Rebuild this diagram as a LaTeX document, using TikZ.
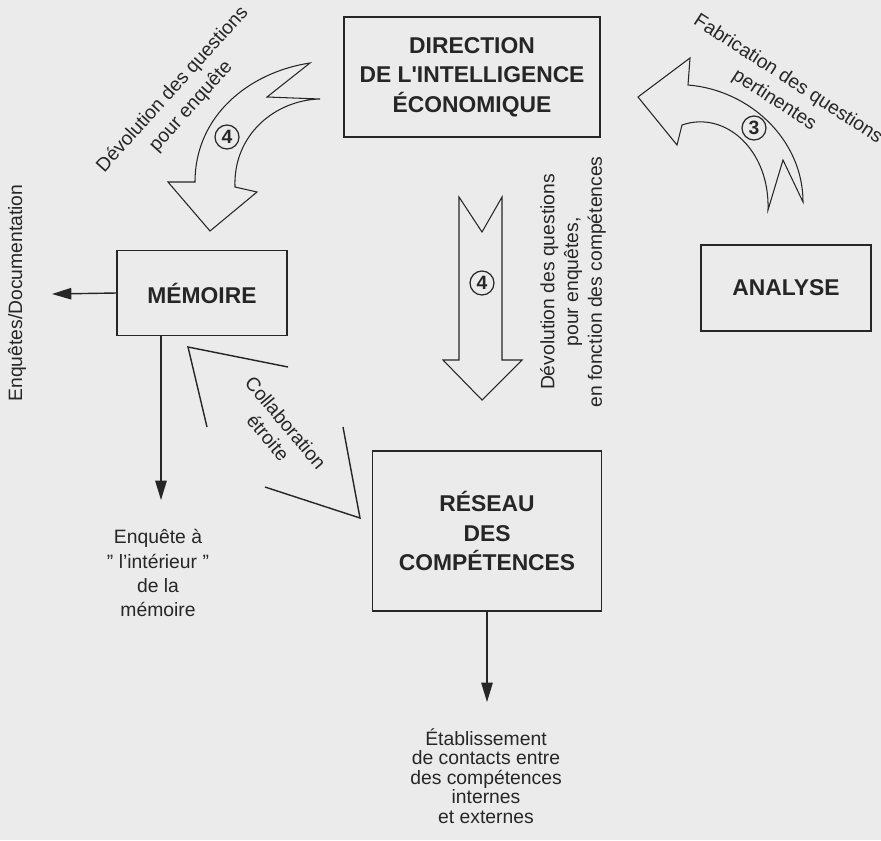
\documentclass[tikz,border=0pt]{standalone}
\usepackage{fontspec}
\setmainfont{Liberation Sans}
\usepackage{tikz}
\usetikzlibrary{arrows.meta}
\definecolor{ink}{HTML}{262626}
\definecolor{paper}{HTML}{EBEBEB}
\tikzset{
  boite/.style={draw=ink, line width=1.1pt, inner sep=0pt, align=center, text=ink,
    font=\fontsize{13}{16.8}\selectfont\bfseries},
  legende/.style={text=ink, align=center, inner sep=0pt, font=\fontsize{11}{13.5}\selectfont},
  fleche/.style={draw=ink, line width=0.8pt, -{Triangle[length=11pt,width=6.5pt]}},
  bloc/.style={draw=ink, line width=0.6pt, line join=miter},
  rond/.style={circle, draw=ink, line width=0.7pt, minimum size=0.48cm, inner sep=0pt, text=ink,
    font=\fontsize{11}{11}\selectfont\bfseries},
  chevron/.style={draw=ink, line width=0.8pt}
}

\begin{document}
\begin{tikzpicture}[x=0.02cm, y=-0.02cm]
    \fill[paper] (0,0) rectangle (881,840);
    \useasboundingbox (0,0) rectangle (881,840);

    \node[boite, minimum width=5.12cm, minimum height=2.4cm] (dir) at (472,77) {DIRECTION\\DE L\textquotesingle INTELLIGENCE\\ÉCONOMIQUE};
    \node[boite, minimum width=3.4cm, minimum height=1.7cm] (mem) at (202,293) {MÉMOIRE};
    \node[boite, minimum width=3.4cm, minimum height=1.72cm] (ana) at (786,288) {ANALYSE};
    \node[boite, minimum width=4.58cm, minimum height=3.2cm] (res) at (487,531) {RÉSEAU\\DES\\COMPÉTENCES};

    \node[legende, rotate=90] (doc) at (17,293) {Enquêtes/Documentation};
    \node[legende, font=\fontsize{11}{13.7}\selectfont] (enq) at (158,573) {Enquête à\\" l'intérieur "\\de la\\mémoire};
    \node[legende, font=\fontsize{11}{11.1}\selectfont] (etab) at (486,776) {Établissement\\de contacts entre\\des compétences\\internes\\et externes};

    \coordinate (doctip) at (52,294);
    \coordinate (enqtip) at (161,500);
    \coordinate (etabtip) at (487,702);
    \draw[fleche] (mem.west) -- (doctip);
    \draw[fleche] (mem.south -| enqtip) -- (enqtip);
    \draw[fleche] (res.south) -- (etabtip);

    % fleches larges
    \draw[bloc] (310,63) .. controls (250,72) and (195,115) .. (195,182) -- (168,182) -- (210,231) -- (257,192)
        -- (235,187) .. controls (233,135) and (275,100) .. (320,99) -- (267,97) -- cycle;
    \draw[bloc] (688,85) -- (690,58) -- (638,97) -- (677,145) -- (682,125)
        .. controls (725,110) and (770,150) .. (768,210) -- (783,160) -- (803,202)
        .. controls (803,140) and (750,90) .. cycle;
    \draw[bloc] (459,197) -- (482,232) -- (502,197) -- (502,360) -- (522,360) -- (482,400) -- (443,360) -- (459,360) -- cycle;

    \node[rond] (n4a) at (227,137) {4};
    \node[rond] (n3) at (754,128) {3};
    \node[rond] (n4b) at (482,283) {4};

    \node[legende, rotate=48, font=\fontsize{11}{14.2}\selectfont] (devenq) at (182,98) {Dévolution des questions\\pour enquête};
    \node[legende, rotate=-33, font=\fontsize{11}{14.2}\selectfont] (fab) at (781,90) {Fabrication des questions\\pertinentes};
    \node[legende, rotate=90] (devcomp) at (573,282) {Dévolution des questions\\pour enquêtes,\\en fonction des compétences};

    % collaboration
    \draw[chevron] (288,367) -- (188,347) -- (207,427);
    \draw[chevron] (265,487) -- (360,518) -- (343,427);
    \node[legende, rotate=-50, font=\fontsize{11}{13}\selectfont] (collab) at (277,430) {Collaboration\\étroite};
\end{tikzpicture}
\end{document}
